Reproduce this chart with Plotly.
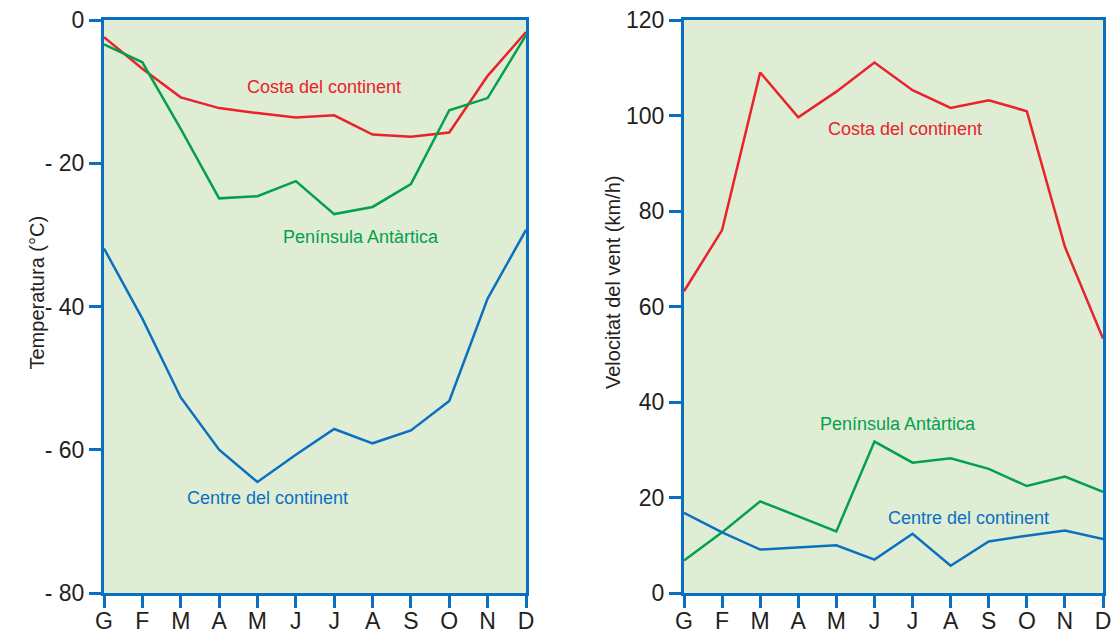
import plotly.graph_objects as go

months = ["G", "F", "M", "A", "M", "J", "J", "A", "S", "O", "N", "D"]

# Temperatura (°C)
temp_costa = [-2.4, -6.8, -10.8, -12.3, -13.0, -13.6, -13.3, -16.0, -16.3, -15.7, -7.8, -1.7]
temp_peninsula = [-3.4, -5.9, -15.2, -24.9, -24.6, -22.5, -27.1, -26.1, -22.9, -12.6, -10.9, -2.1]
temp_centre = [-31.9, -41.7, -52.7, -60.0, -64.5, -60.7, -57.1, -59.1, -57.3, -53.2, -38.9, -29.3]

# Velocitat del vent (km/h)
vent_costa = [63.2, 76.0, 109.0, 99.6, 105.0, 111.1, 105.3, 101.6, 103.2, 100.9, 72.5, 53.3]
vent_peninsula = [6.8, 12.7, 19.2, 16.0, 12.9, 31.7, 27.3, 28.2, 26.0, 22.4, 24.4, 21.2]
vent_centre = [16.8, 12.7, 9.1, 9.6, 10.0, 7.0, 12.4, 5.7, 10.8, 12.0, 13.1, 11.3]

temp_ticks = [0, -20, -40, -60, -80]
temp_ticktext = ["0", "- 20", "- 40", "- 60", "- 80"]
vent_ticks = [0, 20, 40, 60, 80, 100, 120]

RED = "#e8232b"
GREEN = "#04a04c"
BLUE = "#0b70c0"
AXIS = "#0a6fc0"
BG = "#dfedd5"
TXT = "#231f20"
FONT = "Liberation Sans"

W, H = 1112, 633

x = list(range(len(months)))

fig = go.Figure()
for ys, c in [(temp_costa, RED), (temp_peninsula, GREEN), (temp_centre, BLUE)]:
    fig.add_trace(go.Scatter(x=x, y=ys, mode="lines", line=dict(color=c, width=2.5),
                             xaxis="x", yaxis="y", showlegend=False, hoverinfo="skip"))
for ys, c in [(vent_costa, RED), (vent_peninsula, GREEN), (vent_centre, BLUE)]:
    fig.add_trace(go.Scatter(x=x, y=ys, mode="lines", line=dict(color=c, width=2.5),
                             xaxis="x2", yaxis="y2", showlegend=False, hoverinfo="skip"))

ydom = [(H - 593) / H, (H - 20) / H]
common_axis = dict(showline=True, linewidth=3, linecolor=AXIS, mirror=True,
                   ticks="outside", ticklen=12, tickwidth=3, tickcolor=AXIS,
                   showgrid=False, zeroline=False, automargin=False,
                   ticklabeloverflow="allow",
                   tickfont=dict(family=FONT, size=23, color=TXT))
x_axis_extra = dict(ticklabelstandoff=-7)

fig.update_layout(
    width=W, height=H,
    margin=dict(l=0, r=0, t=0, b=0),
    paper_bgcolor="white",
    plot_bgcolor=BG,
    font=dict(family=FONT, color=TXT),
    xaxis=dict(domain=[104 / W, 526 / W], range=[0, 11], tickvals=x, ticktext=months,
               anchor="y", **common_axis, **x_axis_extra),
    yaxis=dict(domain=ydom, range=[-80, 0], tickvals=temp_ticks, ticktext=temp_ticktext,
               anchor="x", **common_axis),
    xaxis2=dict(domain=[684 / W, 1103 / W], range=[0, 11], tickvals=x, ticktext=months,
                anchor="y2", **common_axis, **x_axis_extra),
    yaxis2=dict(domain=ydom, range=[0, 120], tickvals=vent_ticks,
                anchor="x2", **common_axis),
)

ann = [
    ("x", "y", 5.73, -9.35, "Costa del continent", RED),
    ("x", "y", 6.71, -30.3, "Península Antàrtica", GREEN),
    ("x", "y", 4.25, -66.7, "Centre del continent", BLUE),
    ("x2", "y2", 5.81, 97.2, "Costa del continent", RED),
    ("x2", "y2", 5.62, 35.4, "Península Antàrtica", GREEN),
    ("x2", "y2", 7.46, 15.7, "Centre del continent", BLUE),
]
for xr, yr, xv, yv, t, c in ann:
    fig.add_annotation(xref=xr, yref=yr, x=xv, y=yv, text=t, showarrow=False,
                       font=dict(family=FONT, size=18, color=c))

fig.add_annotation(xref="paper", yref="paper", x=23 / W, y=(H - 292.5) / H,
                   text="Temperatura (°C)", textangle=-90, showarrow=False,
                   font=dict(family=FONT, size=20, color=TXT))
fig.add_annotation(xref="paper", yref="paper", x=613 / W, y=(H - 283) / H,
                   text="Velocitat del vent (km/h)", textangle=-90, showarrow=False,
                   font=dict(family=FONT, size=20, color=TXT))

fig.write_html("out.html", config={"displayModeBar": False},
               post_script="document.body.style.margin='0';")
